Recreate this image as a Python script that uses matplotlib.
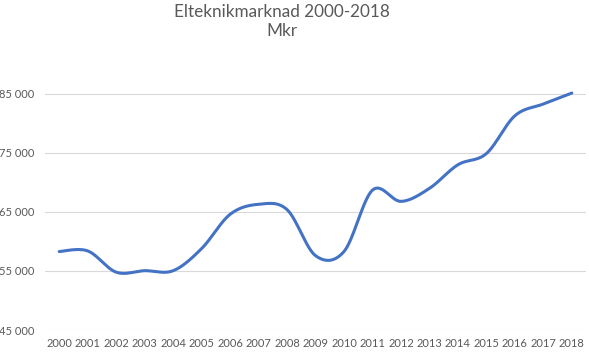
import numpy as np
import matplotlib
matplotlib.use("Agg")
import matplotlib.pyplot as plt

years = [str(y) for y in range(2000, 2019)]
values = [58300, 58400, 54800, 55050, 55050, 58800, 64600, 66300, 65400, 57600,
          58300, 68700, 66800, 69000, 73000, 74900, 81300, 83300, 85150]
yticks = [45000, 55000, 65000, 75000, 85000]

title = "Elteknikmarknad 2000-2018\nMkr"
line_color = "#4472C4"
text_color = "#595959"
grid_color = "#D9D9D9"


def smooth(x, y, n=30):
    # Catmull-Rom as cubic bezier, like Excel's smoothed line
    x = np.asarray(x, float)
    y = np.asarray(y, float)
    px = np.concatenate([[x[0]], x, [x[-1]]])
    py = np.concatenate([[y[0]], y, [y[-1]]])
    t = np.linspace(0, 1, n)[:, None]
    xs, ys = [], []
    for i in range(1, len(px) - 2):
        p0 = np.array([px[i], py[i]])
        p3 = np.array([px[i + 1], py[i + 1]])
        c1 = p0 + (p3 - np.array([px[i - 1], py[i - 1]])) / 6
        c2 = p3 - (np.array([px[i + 2], py[i + 2]]) - p0) / 6
        seg = ((1 - t) ** 3) * p0 + 3 * ((1 - t) ** 2) * t * c1 + 3 * (1 - t) * t ** 2 * c2 + t ** 3 * p3
        xs.append(seg[:, 0])
        ys.append(seg[:, 1])
    return np.concatenate(xs), np.concatenate(ys)


plt.rcParams['font.family'] = ['Lato', 'DejaVu Sans']

fig = plt.figure(figsize=(5.89, 3.56), dpi=100)
ax = fig.add_axes([0.0764, 0.073, 0.9186, 0.746])

pos = np.arange(len(years))
sx, sy = smooth(pos, values)
ax.plot(sx, sy, color=line_color, lw=2.2, solid_capstyle='round', zorder=3)

ax.set_xlim(-0.5, len(years) - 0.5)
ax.set_ylim(45000, 90000)
ax.set_yticks(yticks)
ax.set_yticklabels([f"{v:,}".replace(",", " ") for v in yticks])
ax.set_xticks(pos)
ax.set_xticklabels(years)
ax.tick_params(length=0, labelsize=8, labelcolor=text_color)
ax.tick_params(axis='x', pad=6)
ax.tick_params(axis='y', pad=8)
ax.grid(axis='y', color=grid_color, lw=0.8)
ax.set_axisbelow(True)
for s in ax.spines.values():
    s.set_visible(False)

fig.text(0.478, 0.99, title, ha='center', va='top', fontsize=12.3,
         color=text_color, linespacing=1.3)

fig.savefig("out.png", dpi=100)
